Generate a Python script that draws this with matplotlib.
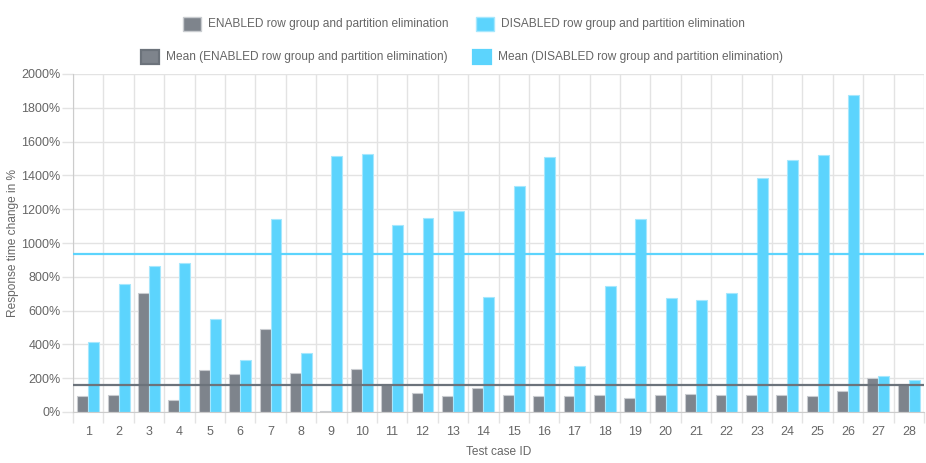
import numpy as np
import matplotlib
matplotlib.use("Agg")
from matplotlib import pyplot as plt
from matplotlib.patches import Rectangle
from matplotlib.ticker import FixedLocator, FuncFormatter

plt.rcParams['font.family'] = ['Liberation Sans', 'DejaVu Sans']

# Test case IDs
casos = [str(i) for i in range(1, 29)]

# Cambio del tiempo de respuesta en %
habilitado = [94, 100, 706, 73, 250, 222, 493, 230, 3, 252, 166, 112, 92, 144,
              100, 96, 96, 102, 85, 100, 104, 100, 102, 98, 96, 124, 199, 164]
deshabilitado = [413, 757, 866, 882, 549, 310, 1142, 348, 1515, 1524, 1108, 1148, 1187, 682,
                 1337, 1509, 274, 747, 1143, 676, 665, 704, 1385, 1493, 1518, 1877, 213, 191]

etiquetas = ["ENABLED row group and partition elimination",
             "DISABLED row group and partition elimination",
             "Mean (ENABLED row group and partition elimination)",
             "Mean (DISABLED row group and partition elimination)"]

GRIS = "#7e848c"
GRIS_BORDE = "#c9ccd0"
GRIS_LINEA = "#6c737b"
CELESTE = "#5cd4fd"
CELESTE_BORDE = "#a6e7fd"
TEXTO = "#666666"
GRILLA = "#e3e3e3"
FS = 8.6

fig = plt.figure(figsize=(9.26, 4.63), dpi=100)
ax = fig.add_axes([73 / 926, 51 / 463, 851 / 926, 338 / 463])

x = np.arange(len(casos))
ancho = 0.36
ax.bar(x - ancho / 2, habilitado, ancho, color=GRIS, edgecolor=GRIS_BORDE, linewidth=0.8, zorder=2)
ax.bar(x + ancho / 2, deshabilitado, ancho, color=CELESTE, edgecolor=CELESTE_BORDE, linewidth=0.8, zorder=2)

media_hab = np.mean(habilitado)
media_des = np.mean(deshabilitado)
ax.axhline(media_hab, color=GRIS_LINEA, linewidth=1.6, zorder=3)
ax.axhline(media_des, color=CELESTE, linewidth=1.6, zorder=3)

ax.set_xlim(-0.5, len(casos) - 0.5)
ax.set_ylim(0, 2000)

ax.set_xticks(x)
ax.set_xticklabels(casos)
ax.xaxis.set_minor_locator(FixedLocator(np.arange(-0.5, len(casos), 1.0)))
ax.tick_params(axis='x', which='major', length=0, pad=10, labelsize=9, labelcolor=TEXTO)
ax.tick_params(axis='x', which='minor', length=8, color=GRILLA, width=1)

ax.set_yticks(np.arange(0, 2001, 200))
ax.yaxis.set_major_formatter(FuncFormatter(lambda v, p: f"{int(v)}%"))
ax.tick_params(axis='y', length=8, color=GRILLA, width=1, pad=1, labelsize=9, labelcolor=TEXTO)

ax.grid(axis='y', which='major', color=GRILLA, linewidth=1, zorder=0)
ax.grid(axis='x', which='minor', color=GRILLA, linewidth=1, zorder=0)
ax.set_axisbelow(True)
for lado in ['top', 'right']:
    ax.spines[lado].set_visible(False)
ax.spines['left'].set_color("#cccccc")
ax.spines['bottom'].set_color("#cccccc")

ax.set_ylabel("Response time change in %", fontsize=FS, color=TEXTO)
ax.yaxis.set_label_coords(-54 / 851, 0.5)
ax.set_xlabel("Test case ID", fontsize=FS, color=TEXTO, labelpad=6)

# Leyenda hecha a mano (dos filas centradas)
def caja(px, py, color, borde, texto, lw=1.0):
    fig.patches.append(Rectangle((px / 926, 1 - (py + 7) / 463), 18 / 926, 14 / 463,
                                 transform=fig.transFigure, facecolor=color,
                                 edgecolor=borde, linewidth=lw))
    fig.text((px + 25) / 926, 1 - py / 463, texto, fontsize=FS, color=TEXTO,
             va='center', ha='left')

caja(183, 24, GRIS, GRIS_BORDE, etiquetas[0])
caja(476, 24, CELESTE, CELESTE_BORDE, etiquetas[1])
caja(141, 57, GRIS, GRIS_LINEA, etiquetas[2], lw=1.6)
caja(473, 57, CELESTE, CELESTE, etiquetas[3], lw=1.6)

fig.savefig("out.png", dpi=100)
